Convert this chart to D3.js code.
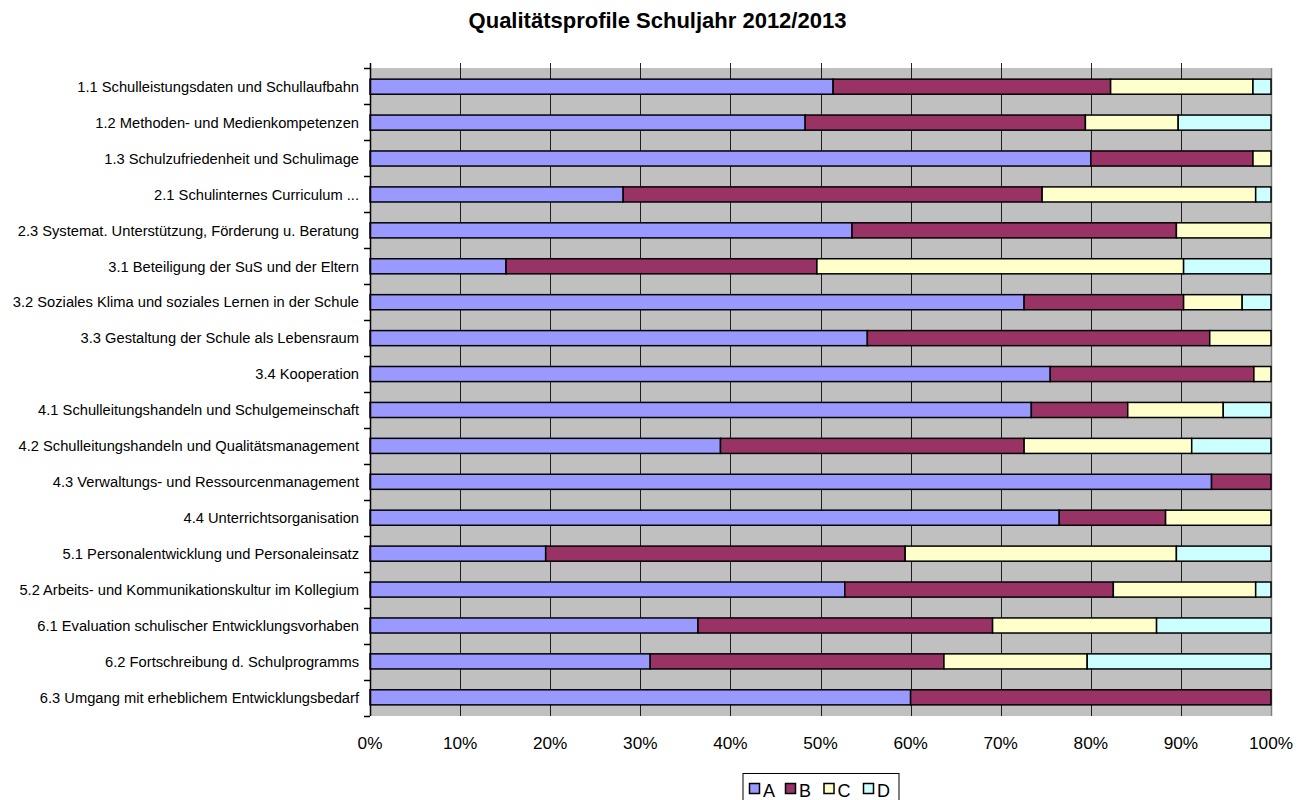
<!DOCTYPE html>
<html><head><meta charset="utf-8">
<script src="https://cdn.jsdelivr.net/npm/d3@7"></script>
<style>body{margin:0;background:#fff}svg{display:block}</style>
</head><body>
<svg id="c" width="1308" height="800"></svg>
<script>
const categories = [
 "1.1 Schulleistungsdaten und Schullaufbahn",
 "1.2 Methoden- und Medienkompetenzen",
 "1.3 Schulzufriedenheit und Schulimage",
 "2.1 Schulinternes Curriculum ...",
 "2.3 Systemat. Unterstützung, Förderung u. Beratung",
 "3.1 Beteiligung der SuS und der Eltern",
 "3.2 Soziales Klima und soziales Lernen in der Schule",
 "3.3 Gestaltung der Schule als Lebensraum",
 "3.4 Kooperation ",
 "4.1 Schulleitungshandeln und Schulgemeinschaft",
 "4.2 Schulleitungshandeln und Qualitätsmanagement",
 "4.3 Verwaltungs- und Ressourcenmanagement",
 "4.4 Unterrichtsorganisation",
 "5.1 Personalentwicklung und Personaleinsatz",
 "5.2 Arbeits- und Kommunikationskultur im Kollegium",
 "6.1 Evaluation schulischer Entwicklungsvorhaben",
 "6.2 Fortschreibung d. Schulprogramms",
 "6.3 Umgang mit erheblichem Entwicklungsbedarf"
];
const seriesA = [51.4,48.3,80.0,28.1,53.5,15.1,72.6,55.2,75.5,73.4,38.9,93.4,76.5,19.5,52.7,36.4,31.1,60.0];
const seriesB = [30.8,31.1,18.0,46.5,36.0,34.5,17.7,38.0,22.6,10.7,33.7,6.6,11.8,39.9,29.8,32.7,32.6,40.0];
const seriesC = [15.8,10.3,2.0,23.7,10.5,40.7,6.5,6.8,1.9,10.6,18.6,0,11.7,30.1,15.8,18.2,15.9,0];
const seriesD = [2.0,10.3,0,1.7,0,9.7,3.2,0,0,5.3,8.8,0,0,10.5,1.7,12.7,20.4,0];
const seriesNames = ["A","B","C","D"];
const colors = ["#9999FF","#993366","#FFFFCC","#CCFFFF"];
const tickLabels = ["0%","10%","20%","30%","40%","50%","60%","70%","80%","90%","100%"];

const svg = d3.select("#c");
const font = "'Liberation Sans', Arial, sans-serif";
const pL = 370, pR = 1271, pT = 68, pB = 716;

svg.append("text").attr("x", 657.5).attr("y", 28).attr("text-anchor","middle")
  .attr("font-family", font).attr("font-weight","bold").attr("font-size", 22).text("Qualitätsprofile Schuljahr 2012/2013");

const x = d3.scaleLinear().domain([0,100]).range([pL, pR]);
const y = d3.scaleBand().domain(categories).range([pT, pB]).paddingInner(0.58).paddingOuter(0.31);

svg.append("rect").attr("x", pL).attr("y", pT).attr("width", pR-pL).attr("height", pB-pT)
  .attr("fill","#C0C0C0");
svg.append("line").attr("x1", pR+0.5).attr("x2", pR+0.5).attr("y1", pT).attr("y2", pB).attr("stroke","#808080").attr("stroke-width",1.5);

// gridlines
const ticks = d3.range(0, 101, 10);
svg.append("g").selectAll("line").data(ticks.slice(1,10)).join("line")
  .attr("x1", d=>Math.round(x(d))+0.5).attr("x2", d=>Math.round(x(d))+0.5)
  .attr("y1", pT-5).attr("y2", pB).attr("stroke","#000").attr("stroke-width",1).attr("stroke-opacity",0.85);

const stacked = categories.map((c,i)=>({cat:c, vals:[seriesA[i],seriesB[i],seriesC[i],seriesD[i]]}));
const stack = d3.stack().keys([0,1,2,3]).value((d,k)=>d.vals[k]);
const layers = stack(stacked);

const g = svg.append("g");
layers.forEach((layer, li) => {
  g.selectAll(null).data(layer.filter(d=>d[1]-d[0] > 0)).join("rect")
    .attr("x", d=>x(d[0])).attr("width", d=>x(d[1])-x(d[0]))
    .attr("y", d=>y(d.data.cat)).attr("height", y.bandwidth())
    .attr("fill", colors[li]).attr("stroke","#000").attr("stroke-width",1.5);
});

// left axis
svg.append("line").attr("x1", pL+0.5).attr("x2", pL+0.5).attr("y1", pT-5).attr("y2", pB).attr("stroke","#000").attr("stroke-width",1.5);
const step = (pB-pT)/categories.length;
svg.append("g").selectAll("line").data(d3.range(categories.length+1)).join("line")
  .attr("x1", pL-6).attr("x2", pL).attr("y1", d=>pT+d*step+0.5).attr("y2", d=>pT+d*step+0.5)
  .attr("stroke","#000").attr("stroke-width",1.5);

svg.append("g").selectAll("text").data(categories).join("text")
  .attr("x", 359).attr("y", d=>y(d)+y.bandwidth()/2).attr("dy","0.36em").attr("text-anchor","end")
  .attr("font-family", font).attr("font-size", 14.7).text(d=>d);

svg.append("g").selectAll("text").data(ticks).join("text")
  .attr("x", d=>x(d)).attr("y", 749).attr("text-anchor","middle")
  .attr("font-family", font).attr("font-size", 17.2).text((d,i)=>tickLabels[i]);

// legend
const lg = svg.append("g");
lg.append("rect").attr("x", 743).attr("y", 773.5).attr("width", 156).attr("height", 30).attr("fill","#fff").attr("stroke","#000");
const lx = [749.5, 785.5, 824, 863.5];
seriesNames.forEach((n,i)=>{
  lg.append("rect").attr("x", lx[i]).attr("y", 783.5).attr("width", 10).attr("height", 10)
    .attr("fill", colors[i]).attr("stroke","#000").attr("stroke-width",1.5);
  lg.append("text").attr("x", lx[i]+13.5).attr("y", 797).attr("font-family", font).attr("font-size", 18).text(n);
});
</script>
</body></html>
